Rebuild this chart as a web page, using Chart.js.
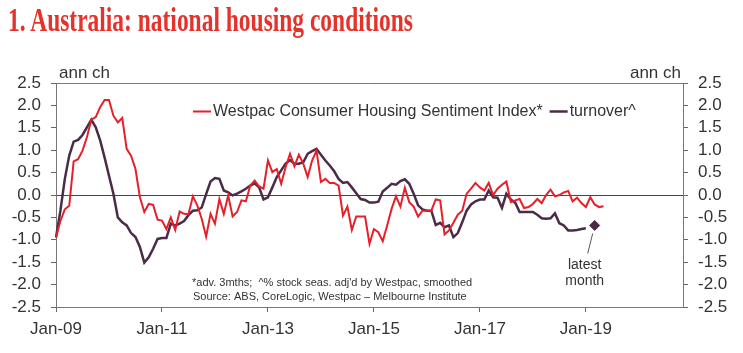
<!DOCTYPE html>
<html>
<head>
<meta charset="utf-8">
<script src="https://cdn.jsdelivr.net/npm/chart.js@4"></script>
<style>
  html, body { margin: 0; padding: 0; background: #fff; }
  #wrap { position: relative; width: 743px; height: 353px; overflow: hidden; }
  #title {
    position: absolute; left: 8px; top: 4px;
    font-family: 'Liberation Serif', 'DejaVu Serif', serif; font-weight: bold;
    font-size: 33px; line-height: 33px; color: #e5322a;
    white-space: nowrap; transform-origin: left top;
  }
  canvas { position: absolute; left: 0; top: 0; }
</style>
</head>
<body>
<div id="wrap">
  <canvas id="chart" width="743" height="353"></canvas>
  <div id="title">1. Australia: national housing conditions</div>
</div>
<script>
// monthly, Jan-09 onwards (sentiment is advanced 3 months so it runs longer)
const firstYear = 2009
const monthCount = 143   // axis runs out to Nov-20

const sentiment = [
  -0.95, -0.58, -0.32, -0.24, 0.75, 0.80, 0.99, 1.29, 1.68, 1.74, 1.96, 2.12,
  2.12, 1.77, 1.62, 1.72, 1.03, 0.88, 0.58, -0.05, -0.38, -0.20, -0.22, -0.55,
  -0.57, -0.76, -0.50, -0.78, -0.37, -0.42, -0.43, -0.03, -0.23, -0.53, -0.93, -0.42,
  -0.64, -0.09, -0.42, -0.01, -0.48, -0.38, -0.12, -0.14, 0.21, 0.32, 0.19, 0.14,
  0.77, 0.51, 0.58, 0.25, 0.62, 0.92, 0.64, 0.90, 0.70, 0.40, 0.77, 0.99,
  0.29, 0.36, 0.27, 0.27, 0.21, -0.46, -0.26, -0.78, -0.48, -0.48, -0.48, -1.09,
  -0.76, -0.83, -1.03, -0.68, -0.31, -0.03, -0.26, 0.16, -0.16, -0.26, -0.48, -0.35,
  -0.35, -0.35, -0.10, -0.12, -0.88, -0.79, -0.62, -0.44, -0.35, 0.03, 0.14, 0.27,
  0.17, 0.10, 0.27, 0.00, 0.14, 0.23, 0.30, -0.16, -0.12, -0.09, -0.29, -0.27,
  -0.20, -0.09, -0.18, 0.00, 0.12, -0.03, 0.00, 0.06, 0.09, -0.14, -0.06, -0.18,
  -0.27, -0.05, -0.21, -0.27, -0.25
]

const turnover = [
  -0.95, -0.35, 0.36, 0.88, 1.19, 1.23, 1.34, 1.51, 1.68, 1.51, 1.22, 0.84,
  0.43, 0.03, -0.50, -0.61, -0.68, -0.85, -0.94, -1.16, -1.51, -1.39, -1.20, -0.98,
  -0.96, -0.96, -0.64, -0.68, -0.64, -0.58, -0.45, -0.35, -0.34, -0.28, 0.02, 0.30,
  0.38, 0.36, 0.10, 0.06, -0.01, 0.03, 0.08, 0.14, 0.21, 0.26, 0.17, -0.10,
  -0.05, 0.17, 0.40, 0.55, 0.70, 0.78, 0.70, 0.70, 0.73, 0.92, 0.98, 1.03,
  0.90, 0.77, 0.66, 0.53, 0.36, 0.27, 0.29, 0.17, 0.04, -0.09, -0.11, -0.17,
  -0.17, -0.15, 0.08, 0.16, 0.25, 0.23, 0.31, 0.35, 0.25, 0.03, -0.23, -0.32,
  -0.35, -0.35, -0.67, -0.62, -0.72, -0.68, -0.94, -0.85, -0.61, -0.35, -0.21, -0.14,
  -0.10, -0.10, 0.10, -0.05, -0.06, -0.29, 0.03, -0.10, -0.17, -0.38, -0.38, -0.38,
  -0.38, -0.44, -0.52, -0.53, -0.52, -0.41, -0.63, -0.68, -0.79, -0.79, -0.78, -0.76,
  -0.74
]

const latestMonth = 'Mar-19'
const latestTurnover = -0.68

const xTickLabels = ['Jan-09', 'Jan-11', 'Jan-13', 'Jan-15', 'Jan-17', 'Jan-19']
const seriesNames = ['Westpac Consumer Housing Sentiment Index*', 'turnover^']
const footnotes = ["*adv. 3mths;  ^% stock seas. adj'd by Westpac, smoothed",
                   'Source: ABS, CoreLogic, Westpac \u2013 Melbourne Institute']

const RED = '#e6202a'
const PURPLE = '#4a2b48'
const TEXT = '#333'
const AXIS = '#777'
const FONT = "'Liberation Sans', Arial, sans-serif"

const monNames = ['Jan','Feb','Mar','Apr','May','Jun','Jul','Aug','Sep','Oct','Nov','Dec']
let months = []
for (let i = 0; i < monthCount; i++) {
  let yy = (firstYear + Math.floor(i / 12)) % 100
  months.push(monNames[i % 12] + '-' + String(yy).padStart(2, '0'))
}

// legend, frame top, side labels, notes
const extras = {
  id: 'extras',
  afterDraw(chart) {
    const {ctx, chartArea: a, scales} = chart
    ctx.save()
    ctx.strokeStyle = AXIS
    ctx.lineWidth = 1
    ctx.beginPath()
    ctx.moveTo(a.left, a.top + 0.5)
    ctx.lineTo(a.right, a.top + 0.5)
    ctx.stroke()

    ctx.fillStyle = TEXT
    ctx.textBaseline = 'middle'
    ctx.font = '17px ' + FONT
    ctx.textAlign = 'left'
    ctx.fillText('ann ch', a.left + 3, 73)
    ctx.textAlign = 'right'
    ctx.fillText('ann ch', a.right - 2, 73)

    // legend
    ctx.font = '16px ' + FONT
    ctx.textAlign = 'left'
    let x = 193, ly = 111.5
    const colors = [RED, PURPLE]
    const widths = [2, 2.5]
    for (let i = 0; i < seriesNames.length; i++) {
      ctx.strokeStyle = colors[i]
      ctx.lineWidth = widths[i]
      ctx.beginPath()
      ctx.moveTo(x, ly)
      ctx.lineTo(x + 18, ly)
      ctx.stroke()
      x += 20
      ctx.fillText(seriesNames[i], x, ly)
      x += ctx.measureText(seriesNames[i]).width + 7
    }

    // footnotes
    ctx.font = '11px ' + FONT
    ctx.fillText(footnotes[0], 192, 283)
    ctx.fillText(footnotes[1], 193, 297)

    // latest month callout
    const px = scales.x.getPixelForValue(months.indexOf(latestMonth))
    const py = scales.y.getPixelForValue(latestTurnover)
    ctx.strokeStyle = '#555'
    ctx.lineWidth = 1
    ctx.beginPath()
    ctx.moveTo(px - 2, py + 8)
    ctx.lineTo(px - 7, py + 28)
    ctx.stroke()
    ctx.font = '14px ' + FONT
    ctx.textAlign = 'center'
    ctx.fillText('latest', px - 10, py + 40)
    ctx.fillText('month', px - 10, py + 56)
    ctx.restore()
  }
}

const zeroOnly = c => (c.tick && Math.abs(c.tick.value) < 1e-9) ? '#444' : 'rgba(0,0,0,0)'

new Chart(document.getElementById('chart'), {
  type: 'line',
  data: {
    labels: months,
    datasets: [
      {label: seriesNames[0], data: sentiment, borderColor: RED, borderWidth: 2,
       pointRadius: 0, yAxisID: 'y'},
      {label: seriesNames[1], data: turnover, borderColor: PURPLE, borderWidth: 2.5,
       pointRadius: 0, yAxisID: 'y'},
      {label: 'latest', data: [{x: latestMonth, y: latestTurnover}], showLine: false,
       pointStyle: 'rectRot', pointRadius: 5, backgroundColor: PURPLE, borderColor: PURPLE,
       yAxisID: 'y'}
    ]
  },
  options: {
    responsive: false,
    animation: false,
    layout: {padding: {top: 83, left: 0, right: 0, bottom: 0}},
    plugins: {legend: {display: false}, tooltip: {enabled: false}},
    scales: {
      x: {
        type: 'category',
        offset: false,
        afterFit: s => { s.height = 46 },
        border: {color: AXIS},
        grid: {drawOnChartArea: false, tickLength: 5, color: '#666'},
        ticks: {
          autoSkip: false, maxRotation: 0, minRotation: 0, padding: 7,
          color: TEXT, font: {family: FONT, size: 17},
          callback: (v, i) => i % 24 === 0 ? xTickLabels[i / 24] : null
        }
      },
      y: {
        position: 'left', min: -2.5, max: 2.5,
        afterFit: s => { s.width = 56 },
        border: {color: AXIS},
        grid: {color: zeroOnly, tickColor: '#666', tickLength: 5},
        ticks: {stepSize: 0.5, autoSkip: false, padding: 10, color: TEXT,
                font: {family: FONT, size: 17}, callback: v => v.toFixed(1)}
      },
      y2: {
        position: 'right', min: -2.5, max: 2.5,
        afterFit: s => { s.width = 60 },
        border: {color: AXIS},
        grid: {drawOnChartArea: false, color: '#666', tickLength: 5},
        ticks: {stepSize: 0.5, autoSkip: false, padding: 10, color: TEXT,
                font: {family: FONT, size: 17}, callback: v => v.toFixed(1)}
      }
    }
  },
  plugins: [extras]
})

const title = document.getElementById('title')
const tw = title.getBoundingClientRect().width
title.style.transform = 'scaleX(' + (405 / tw) + ')'
</script>
</body>
</html>
